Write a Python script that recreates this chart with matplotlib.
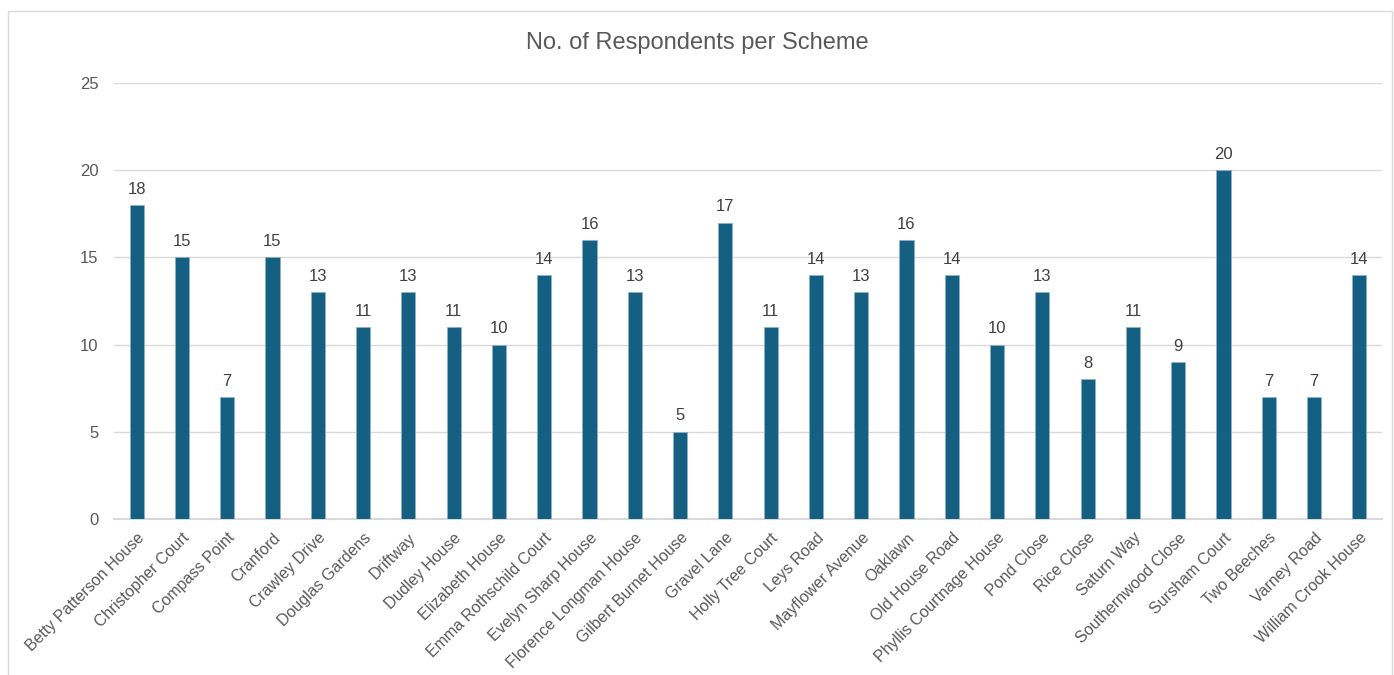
import matplotlib.pyplot as plt
from matplotlib.patches import Rectangle

schemes = [
    "Betty Patterson House", "Christopher Court", "Compass Point", "Cranford",
    "Crawley Drive", "Douglas Gardens", "Driftway", "Dudley House",
    "Elizabeth House", "Emma Rothschild Court", "Evelyn Sharp House",
    "Florence Longman House", "Gilbert Burnet House", "Gravel Lane",
    "Holly Tree Court", "Leys Road", "Mayflower Avenue", "Oaklawn",
    "Old House Road", "Phyllis Courtnage House", "Pond Close", "Rice Close",
    "Saturn Way", "Southernwood Close", "Sursham Court", "Two Beeches",
    "Varney Road", "William Crook House",
]
respondents = [18, 15, 7, 15, 13, 11, 13, 11, 10, 14, 16, 13, 5, 17, 11, 14,
               13, 16, 14, 10, 13, 8, 11, 9, 20, 7, 7, 14]
yticks = [0, 5, 10, 15, 20, 25]

plt.rcParams["font.family"] = ["Liberation Sans", "DejaVu Sans"]
grey = "#595959"
bar_color = "#156082"

fig = plt.figure(figsize=(13.94, 6.75), dpi=100)
W, H = 1394, 675
ax = fig.add_axes([114 / W, 1 - 519 / H, (1382 - 114) / W, (519 - 83) / H])

x = range(len(schemes))
bars = ax.bar(x, respondents, width=0.31, color=bar_color,
              edgecolor="#8fb3c7", linewidth=0.5, zorder=3)
for b, v in zip(bars, respondents):
    ax.annotate(str(v), (b.get_x() + b.get_width() / 2, v),
                xytext=(0, 6), textcoords="offset points",
                ha="center", va="bottom", fontsize=12, color="#404040")

ax.set_xlim(-0.5, len(schemes) - 0.5)
ax.set_ylim(0, 25)
ax.set_yticks(yticks)
ax.yaxis.grid(True, color="#d9d9d9", linewidth=1, zorder=0)
ax.tick_params(axis="y", length=0, pad=11, labelsize=12, labelcolor=grey)
ax.tick_params(axis="x", length=0, pad=8, labelsize=11.5, labelcolor=grey)
ax.set_xticks(list(x))
ax.set_xticklabels(schemes, rotation=45, ha="right", rotation_mode="anchor")
for s in ["top", "right", "left"]:
    ax.spines[s].set_visible(False)
ax.spines["bottom"].set_color("#d9d9d9")
ax.spines["bottom"].set_linewidth(1.5)

fig.text(0.5, 1 - 43 / H, "No. of Respondents per Scheme", ha="center",
         va="center", fontsize=17, color=grey)

# chart area border
fig.patches.append(Rectangle((8 / W, -0.02), (1392 - 8) / W, 1 - 11 / H + 0.02,
                             transform=fig.transFigure, fill=False,
                             edgecolor="#d9d9d9", linewidth=1))

fig.savefig("out.png", dpi=100)
